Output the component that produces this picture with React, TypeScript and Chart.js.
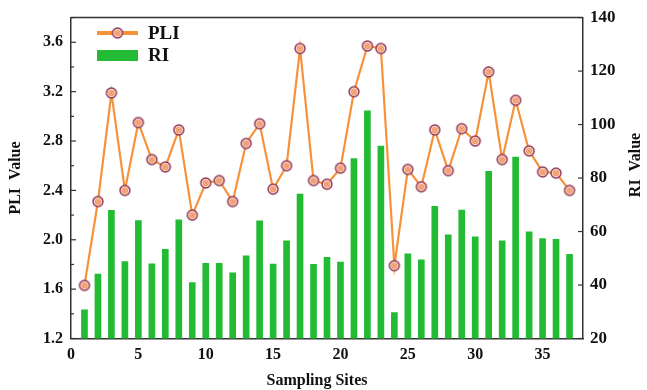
import React, { useEffect, useRef } from "react";
import { Chart, registerables } from "chart.js";

Chart.register(...registerables);

const SITES = [1, 2, 3, 4, 5, 6, 7, 8, 9, 10, 11, 12, 13, 14, 15, 16, 17, 18, 19, 20, 21, 22, 23, 24, 25, 26, 27, 28, 29, 30, 31, 32, 33, 34, 35, 36, 37];
const PLI = [1.63, 2.31, 3.19, 2.40, 2.95, 2.65, 2.59, 2.89, 2.20, 2.46, 2.48, 2.31, 2.78, 2.94, 2.41, 2.60, 3.55, 2.48, 2.45, 2.58, 3.20, 3.57, 3.55, 1.79, 2.57, 2.43, 2.89, 2.56, 2.90, 2.80, 3.36, 2.65, 3.13, 2.72, 2.55, 2.54, 2.40];
const RI = [30.7, 44.1, 67.9, 48.8, 64.1, 47.9, 53.3, 64.4, 40.9, 48.1, 48.1, 44.6, 50.9, 64.0, 47.8, 56.5, 74.0, 47.7, 50.4, 48.6, 87.3, 105.1, 92.0, 29.7, 51.7, 49.4, 69.4, 58.8, 68.0, 58.0, 82.5, 56.5, 87.8, 59.9, 57.4, 57.1, 51.5];
const LEFT_TICKS = [1.2, 1.6, 2.0, 2.4, 2.8, 3.2, 3.6];
const LEFT_MINOR = [1.4, 1.8, 2.2, 2.6, 3.0, 3.4, 3.8];
const RIGHT_TICKS = [20, 40, 60, 80, 100, 120, 140];
const X_TICKS = [0, 5, 10, 15, 20, 25, 30, 35];

const FONT = "'Liberation Serif', 'Times New Roman', serif";
const ORANGE = "#f7923a";
const GREEN = "#22bb33";
const AXIS = "#333333";

function makeMarker(): HTMLCanvasElement {
  const c = document.createElement("canvas");
  c.width = 14;
  c.height = 14;
  const g = c.getContext("2d")!;
  g.beginPath();
  g.arc(7, 7, 5, 0, Math.PI * 2);
  g.fillStyle = "#f8d8cc";
  g.fill();
  g.lineWidth = 1.4;
  g.strokeStyle = "#8e3556";
  g.stroke();
  g.beginPath();
  g.arc(7, 7, 2.3, 0, Math.PI * 2);
  g.fillStyle = "#fde9dc";
  g.fill();
  g.lineWidth = 1.1;
  g.strokeStyle = "#f0813a";
  g.stroke();
  g.beginPath();
  g.arc(7, 7, 0.9, 0, Math.PI * 2);
  g.fillStyle = "#e8603a";
  g.fill();
  return c;
}

export default function App() {
  const ref = useRef<HTMLCanvasElement | null>(null);

  useEffect(() => {
    if (!ref.current) return;
    const marker = makeMarker();

    const decor = {
      id: "decor",
      afterDraw(chart: any) {
        const ctx = chart.ctx;
        const a = chart.chartArea;
        const yL = chart.scales.y;
        const yR = chart.scales.y1;
        ctx.save();
        ctx.strokeStyle = AXIS;
        ctx.lineWidth = 1.5;
        ctx.beginPath();
        ctx.moveTo(a.left, a.top);
        ctx.lineTo(a.right, a.top);
        ctx.stroke();
        ctx.lineWidth = 1.2;
        LEFT_TICKS.forEach((v) => {
          const p = yL.getPixelForValue(v);
          ctx.beginPath();
          ctx.moveTo(a.left, p);
          ctx.lineTo(a.left + 5, p);
          ctx.stroke();
        });
        LEFT_MINOR.forEach((v) => {
          const p = yL.getPixelForValue(v);
          ctx.beginPath();
          ctx.moveTo(a.left, p);
          ctx.lineTo(a.left + 3, p);
          ctx.stroke();
        });
        RIGHT_TICKS.forEach((v) => {
          const p = yR.getPixelForValue(v);
          ctx.beginPath();
          ctx.moveTo(a.right, p);
          ctx.lineTo(a.right - 5, p);
          ctx.stroke();
        });
        ctx.fillStyle = "#111";
        ctx.font = `bold 16px ${FONT}`;
        ctx.textAlign = "center";
        ctx.textBaseline = "middle";
        ctx.fillText("Sampling Sites", 317, 381);
        ctx.save();
        ctx.translate(16, 178);
        ctx.rotate(-Math.PI / 2);
        ctx.fillText("PLI  Value", 0, 0);
        ctx.restore();
        ctx.save();
        ctx.translate(636, 165);
        ctx.rotate(-Math.PI / 2);
        ctx.fillText("RI  Value", 0, 0);
        ctx.restore();
        const lx = a.left + 26;
        ctx.strokeStyle = ORANGE;
        ctx.lineWidth = 4;
        ctx.beginPath();
        ctx.moveTo(lx, 33);
        ctx.lineTo(lx + 41, 33);
        ctx.stroke();
        ctx.drawImage(marker, lx + 20.5 - 7, 33 - 7);
        ctx.fillStyle = GREEN;
        ctx.fillRect(lx, 50, 41, 11);
        ctx.fillStyle = "#111";
        ctx.font = `bold 19px ${FONT}`;
        ctx.textAlign = "left";
        ctx.fillText("PLI", lx + 51, 34);
        ctx.fillText("RI", lx + 51, 56);
        ctx.restore();
      },
    };

    const chart = new Chart(ref.current, {
      type: "bar",
      data: {
        datasets: [
          {
            type: "line",
            label: "PLI",
            data: SITES.map((s, i) => ({ x: s, y: PLI[i] })),
            yAxisID: "y",
            xAxisID: "x",
            borderColor: ORANGE,
            borderWidth: 2.2,
            pointStyle: marker as any,
            pointRadius: 5,
            tension: 0,
            order: 0,
          } as any,
          {
            type: "bar",
            label: "RI",
            data: SITES.map((s, i) => ({ x: s, y: RI[i] })),
            yAxisID: "y1",
            xAxisID: "x",
            backgroundColor: GREEN,
            barThickness: 6,
            order: 1,
          } as any,
        ],
      },
      options: {
        animation: false,
        responsive: true,
        maintainAspectRatio: false,
        layout: { padding: { top: 13, left: 0, right: 0, bottom: 0 } },
        plugins: { legend: { display: false }, tooltip: { enabled: false } },
        scales: {
          x: {
            type: "linear",
            offset: false,
            min: 0,
            max: 38,
            grid: { display: false, drawTicks: false },
            border: { display: true, color: AXIS, width: 1.5 },
            afterBuildTicks: (s: any) => {
              s.ticks = X_TICKS.map((v) => ({ value: v }));
            },
            afterFit: (s: any) => {
              s.height = 51.5;
            },
            ticks: {
              padding: 7,
              color: "#111",
              font: { family: FONT, weight: "bold", size: 16 },
              maxRotation: 0,
              autoSkip: false,
            },
          },
          y: {
            type: "linear",
            position: "left",
            min: 1.2,
            max: 3.8,
            grid: { display: false, drawTicks: false },
            border: { display: true, color: AXIS, width: 1.5 },
            afterBuildTicks: (s: any) => {
              s.ticks = LEFT_TICKS.map((v) => ({ value: v }));
            },
            afterFit: (s: any) => {
              s.width = 71;
            },
            ticks: {
              padding: 8,
              color: "#111",
              font: { family: FONT, weight: "bold", size: 16 },
              callback: (v: any) => Number(v).toFixed(1),
            },
          },
          y1: {
            type: "linear",
            position: "right",
            min: 20,
            max: 140,
            grid: { display: false, drawTicks: false },
            border: { display: true, color: AXIS, width: 1.5 },
            afterBuildTicks: (s: any) => {
              s.ticks = RIGHT_TICKS.map((v) => ({ value: v }));
            },
            afterFit: (s: any) => {
              s.width = 64;
            },
            ticks: {
              padding: 7,
              color: "#111",
              font: { family: FONT, weight: "bold", size: 17 },
            },
          },
        },
      },
      plugins: [decor],
    });
    return () => chart.destroy();
  }, []);

  return (
    <div style={{ position: "fixed", left: 0, top: 0, width: 647, height: 390, background: "#fff" }}>
      <canvas ref={ref} />
    </div>
  );
}
